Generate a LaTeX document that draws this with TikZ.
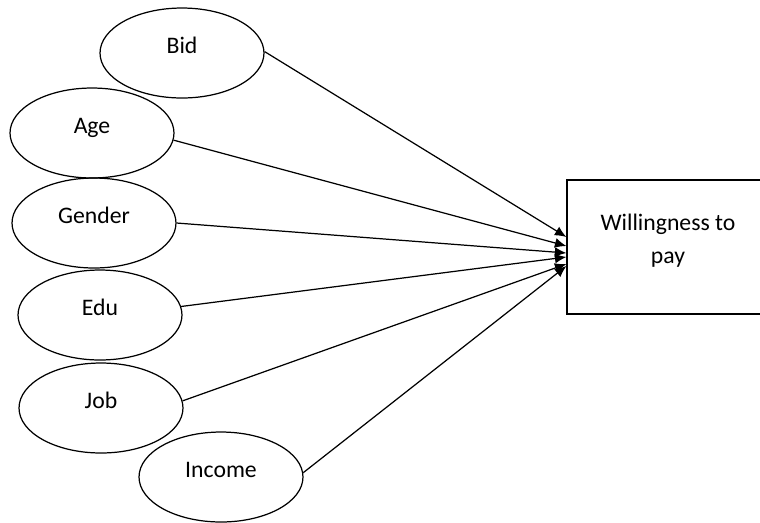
\documentclass[tikz,border=0pt]{standalone}
\usepackage{fontspec}
\setmainfont{Carlito}
\usetikzlibrary{shapes.geometric,arrows.meta}

\begin{document}
\begin{tikzpicture}[x=0.02cm,y=-0.02cm,
  font=\fontsize{13.5}{18.8}\selectfont,
  var/.style={ellipse,draw,line width=0.7pt,inner sep=0pt,minimum width=3.28cm,minimum height=1.8cm,text height=0.3cm,text depth=0.3cm},
  targetbox/.style={rectangle,draw,line width=0.7pt,minimum width=4.04cm,minimum height=2.68cm,align=center},
  arr/.style={line width=0.7pt,-{Latex[length=2.3mm,width=2mm]}}]
\useasboundingbox (0,0) rectangle (760,522);
\node[var] (bid) at (182,53) {Bid};
\node[var] (age) at (92,133) {Age};
\node[var] (gender) at (94,223) {Gender};
\node[var] (edu) at (100,315) {Edu};
\node[var] (job) at (101,408) {Job};
\node[var] (income) at (221,477) {Income};
\node[targetbox] (wtp) at (668,247) {Willingness to\\pay\rule[-9pt]{0pt}{9pt}};

\draw[arr] (bid.1) -- ([yshift=0.2cm]wtp.west);
\draw[arr] (age.-5) -- ([yshift=0.02cm]wtp.west);
\draw[arr] (gender.0) -- ([yshift=-0.12cm]wtp.west);
\draw[arr] (edu.6) -- ([yshift=-0.2cm]wtp.west);
\draw[arr] (job.5) -- ([yshift=-0.34cm]wtp.west);
\draw[arr] (income.3) -- ([yshift=-0.38cm]wtp.west);
\end{tikzpicture}
\end{document}
